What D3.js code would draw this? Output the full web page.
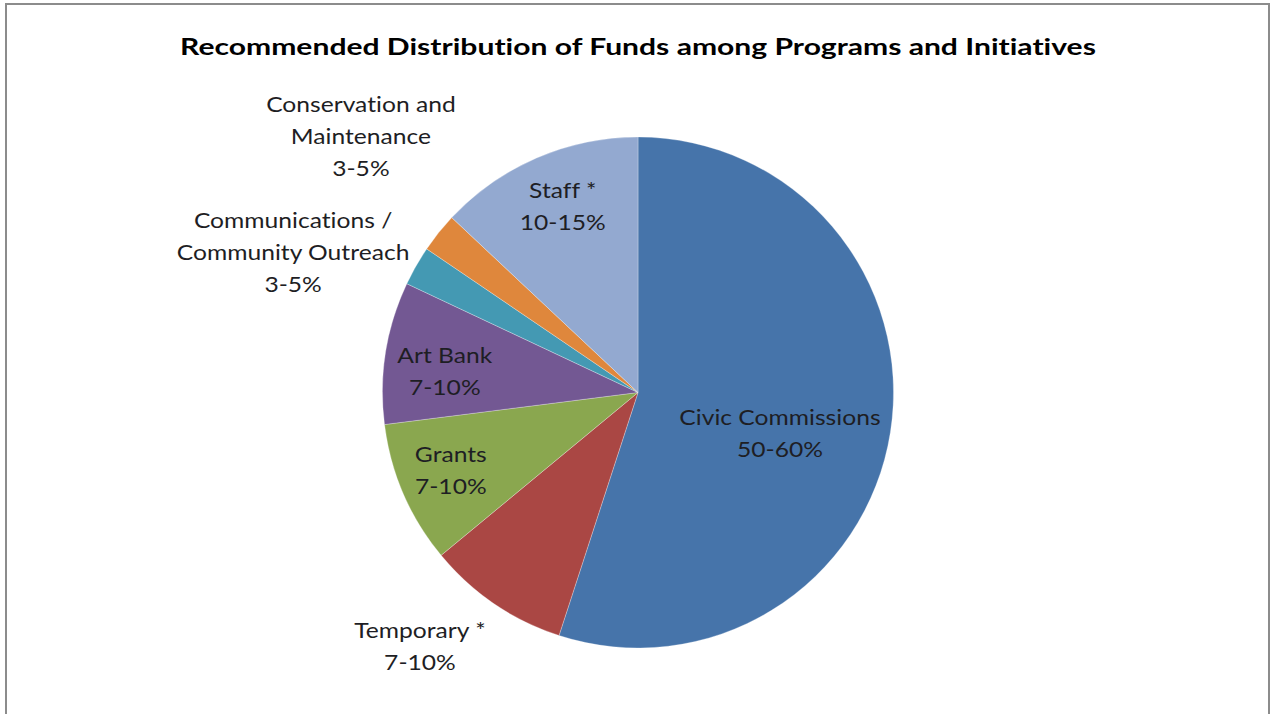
<!DOCTYPE html>
<html>
<head>
<meta charset="utf-8">
<script src="https://cdn.jsdelivr.net/npm/d3@7"></script>
<style>
  body { margin: 0; background: #fff; }
  svg { display: block; font-family: Lato, "Open Sans", sans-serif; font-variant-ligatures: none; }
</style>
</head>
<body>
<svg id="chart"></svg>
<script>
// data (start at 12 o'clock, clockwise)
const categories = ["Civic Commissions", "Temporary *", "Grants", "Art Bank",
    "Communications / Community Outreach", "Conservation and Maintenance", "Staff *"];
const shares = [55, 9, 9, 9, 2.5, 2.5, 13];
const rangeLabels = ["50-60%", "7-10%", "7-10%", "7-10%", "3-5%", "3-5%", "10-15%"];
const labelLines = [
    ["Civic Commissions"],
    ["Temporary *"],
    ["Grants"],
    ["Art Bank"],
    ["Communications /", "Community Outreach"],
    ["Conservation and", "Maintenance"],
    ["Staff *"]
];
const title = "Recommended Distribution of Funds among Programs and Initiatives";

const colors = ["#4674aa", "#aa4744", "#8aa74f", "#735893", "#4499b3", "#df873c", "#93a9d0"];

// label placement: [angle shift in degrees, radius factor]
const labelPlace = [[6.7, 0.577], [6.6, 1.306], [1.1, 0.792], [-2.6, 0.761],
    [-7.4, 1.459], [4.1, 1.478], [1.5, 0.79]];

const width = 1273;
const height = 714;
const cx = 638;
const cy = 392.5;
const radius = 255.5;
const fontSize = 22;
const lineGap = 32;
const labelStretch = 1.12;   // source text is a bit wider than Lato
const titleWidth = 916;

const svg = d3.select("#chart")
    .attr("width", width)
    .attr("height", height);

svg.append("rect")
    .attr("x", 0).attr("y", 0)
    .attr("width", width).attr("height", height)
    .attr("fill", "#fff");

// chart area frame
svg.append("rect")
    .attr("x", 6).attr("y", 4)
    .attr("width", 1263).attr("height", 720)
    .attr("fill", "#fff")
    .attr("stroke", "#8c8c8c")
    .attr("stroke-width", 2);

const titleText = svg.append("text")
    .attr("text-anchor", "middle")
    .attr("font-size", 23)
    .attr("font-weight", "bold")
    .attr("fill", "#000")
    .text(title);
const tw = titleText.node().getComputedTextLength();
titleText.attr("transform", `translate(${cx},55) scale(${titleWidth / tw},1)`);

const pie = d3.pie().sort(null).value(d => d);
const arcs = pie(shares);
const arc = d3.arc().innerRadius(0).outerRadius(radius);

const g = svg.append("g").attr("transform", `translate(${cx},${cy})`);

g.selectAll("path")
    .data(arcs)
    .enter()
    .append("path")
    .attr("d", arc)
    .attr("fill", (d, i) => colors[i])
    .attr("stroke", "rgba(255,255,255,0.35)")
    .attr("stroke-width", 0.8);

// labels
arcs.forEach((d, i) => {
    const mid = (d.startAngle + d.endAngle) / 2 + labelPlace[i][0] * Math.PI / 180;
    const r = radius * labelPlace[i][1];
    const x = Math.sin(mid) * r;
    const y = -Math.cos(mid) * r;
    const lines = labelLines[i].concat([rangeLabels[i]]);
    const t = g.append("text")
        .attr("transform", `translate(${x},${y}) scale(${labelStretch},1)`)
        .attr("text-anchor", "middle")
        .attr("font-size", fontSize)
        .attr("fill", "#1e1e24");
    lines.forEach((line, j) => {
        t.append("tspan")
            .attr("x", 0)
            .attr("y", (j - (lines.length - 1) / 2) * lineGap)
            .attr("dominant-baseline", "central")
            .text(line);
    });
});
</script>
</body>
</html>
